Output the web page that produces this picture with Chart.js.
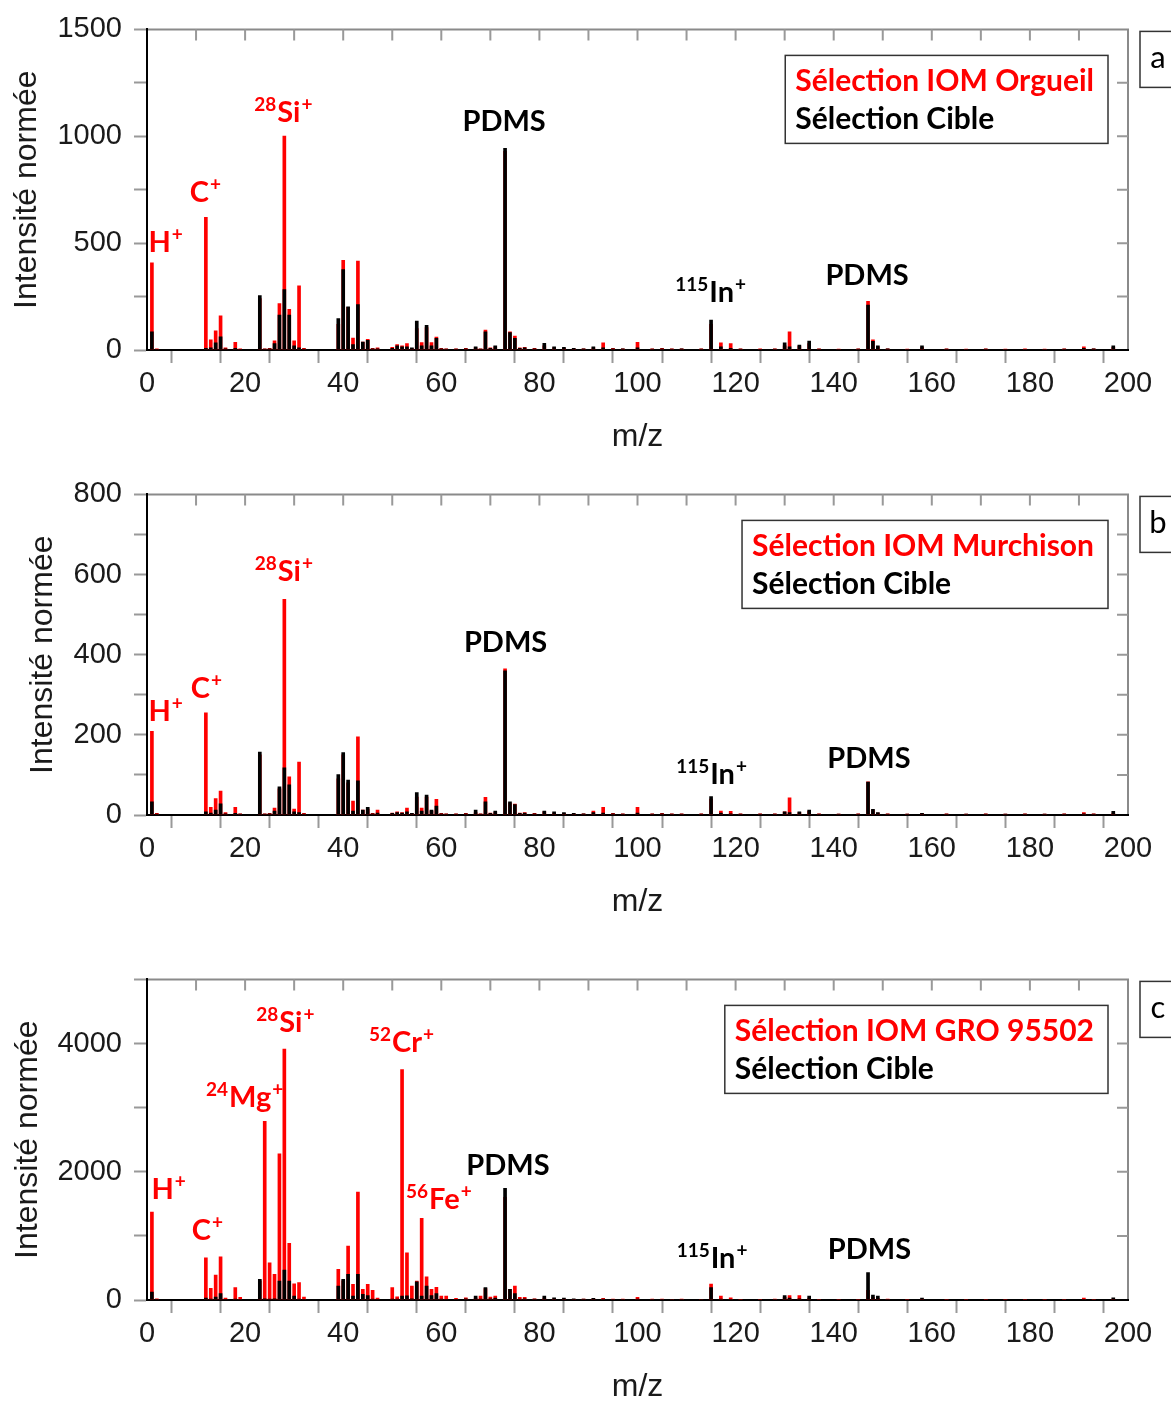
<!DOCTYPE html>
<html><head><meta charset="utf-8">
<script src="https://cdn.jsdelivr.net/npm/chart.js@4"></script>
<style>
html,body{margin:0;padding:0;background:#fff;overflow:hidden;width:1171px;height:1401px}
canvas{position:absolute;left:0}
</style></head>
<body>
<canvas id="ca" width="1171" height="460" style="top:0px"></canvas>
<canvas id="cb" width="1171" height="460" style="top:465px"></canvas>
<canvas id="cc" width="1171" height="460" style="top:950px"></canvas>
<script>
// m/z values (integer masses) where peaks are drawn
const masses = [1,2,12,13,14,15,16,18,19,23,24,25,26,27,28,29,30,31,32,39,40,41,42,43,44,45,46,47,50,51,52,53,54,55,56,57,58,59,60,61,63,65,67,68,69,70,71,73,74,75,76,77,79,81,83,85,87,89,91,93,95,97,100,103,105,107,109,113,115,117,119,121,125,128,130,131,133,135,137,141,145,147,148,149,151,155,158,163,167,171,175,179,183,187,191,193,197];

// Panel a
const orgueilIOM = [408,5,621,47,90,160,10,36,5,240,5,8,43,217,1001,190,43,300,8,120,419,200,56,416,37,50,8,10,12,25,20,30,8,100,35,105,35,60,8,5,5,8,10,5,93,10,15,930,85,65,10,12,8,20,10,8,6,5,10,33,8,6,36,5,8,5,6,5,120,33,30,5,5,6,20,85,18,30,5,4,5,228,47,15,6,4,12,5,4,5,4,5,4,5,15,6,12];
const orgueilCible = [85,3,8,10,34,62,5,8,3,255,4,5,30,163,283,163,20,10,4,147,376,202,25,213,37,45,5,6,8,20,15,15,10,135,20,116,20,55,6,4,4,6,15,4,85,8,20,944,82,55,8,10,6,31,15,12,8,6,15,10,6,5,10,4,6,4,5,4,140,15,8,4,3,4,33,15,23,42,4,3,4,210,40,20,5,3,20,4,3,4,3,3,3,4,8,5,20];

// Panel b
const murchisonIOM = [209,4,255,19,41,60,6,19,3,150,3,4,17,65,538,95,15,132,4,90,150,80,35,195,12,15,4,12,5,8,6,17,4,45,17,45,10,39,4,3,3,4,6,3,44,5,6,365,30,27,5,6,4,8,5,4,3,3,10,19,4,3,19,3,4,3,3,3,40,10,9,3,3,3,8,43,6,9,3,2,3,83,12,5,3,2,4,3,2,3,2,3,2,3,6,3,5];
const murchisonCible = [33,2,8,5,12,28,3,4,2,157,2,3,10,70,118,75,8,6,2,101,156,87,10,85,12,19,3,5,4,6,5,8,4,56,10,50,12,22,3,2,2,3,12,2,33,4,10,360,33,26,4,5,3,10,8,6,4,3,6,5,3,2,5,2,3,2,2,2,46,5,3,2,2,2,8,6,8,12,2,2,2,82,14,6,2,2,4,2,2,2,2,2,2,2,3,2,9];

// Panel c
const groIOM = [1371,20,659,182,389,675,30,192,40,300,2788,581,400,2279,3915,883,254,270,45,478,300,841,244,1682,166,244,151,30,192,50,3593,737,218,296,1272,363,166,197,60,60,25,35,30,60,180,45,60,1600,166,218,40,40,20,30,20,15,12,15,20,25,15,15,40,15,15,12,15,12,249,60,35,12,12,15,40,70,70,30,12,10,12,150,40,25,15,10,15,12,10,12,10,12,10,12,30,12,15];
const groCible = [125,10,30,15,47,99,10,15,10,322,20,15,20,296,467,296,62,15,10,218,322,400,62,400,88,70,15,10,15,15,62,65,20,285,62,218,70,99,15,10,10,20,60,15,192,20,30,1740,166,99,15,20,15,62,35,30,20,15,25,15,10,10,15,10,10,10,10,10,192,15,10,8,8,10,70,30,20,60,8,8,8,426,78,60,10,8,30,8,8,8,8,8,8,8,10,8,35];

// axis ticks
const xTickStep = 10, xLabelEvery = 20;
const panelYMax = [1500, 800, 5000];
const panelYStep = [250, 100, 1000];
const panelYLabelEvery = [500, 200, 2000];

const redLabels = ['Sélection IOM Orgueil', 'Sélection IOM Murchison', 'Sélection IOM GRO 95502'];
const blackLabel = 'Sélection Cible';
const panelLetters = ['a', 'b', 'c'];

// peak annotations: [pre-superscript, main text, superscript, m/z, intensity, colour]
const annotsA = [['', 'H', '+', 3.7, 508, 'red'], ['', 'C', '+', 11.8, 745, 'red'], ['28', 'Si', '+', 27.7, 1118, 'red'], ['', 'PDMS', '', 72.8, 1076, 'black'], ['115', 'In', '+', 114.8, 275, 'black'], ['', 'PDMS', '', 146.8, 354, 'black']];
const annotsB = [['', 'H', '+', 3.7, 263, 'red'], ['', 'C', '+', 12.0, 320, 'red'], ['28', 'Si', '+', 27.8, 611, 'red'], ['', 'PDMS', '', 73.1, 435, 'black'], ['115', 'In', '+', 115, 104, 'black'], ['', 'PDMS', '', 147.2, 144, 'black']];
const annotsC = [['', 'H', '+', 4.3, 1745, 'red'], ['', 'C', '+', 12.2, 1106, 'red'], ['24', 'Mg', '+', 19.8, 3178, 'red'], ['28', 'Si', '+', 28.1, 4346, 'red'], ['52', 'Cr', '+', 51.8, 4034, 'red'], ['56', 'Fe', '+', 59.4, 1589, 'red'], ['', 'PDMS', '', 73.6, 2118, 'black'], ['115', 'In', '+', 115.1, 670, 'black'], ['', 'PDMS', '', 147.3, 810, 'black']];

const RED = '#ff0000', BLACK = '#000000';
const TXT = "Lato, 'Open Sans', sans-serif";
const AX = "'Liberation Sans', Arial, sans-serif";

const decor = {
  id: 'decor',
  afterDraw(chart, args, opts) {
    const {ctx, chartArea: ca, scales: {x, y}} = chart;
    ctx.save();
    // top and right frame with inward ticks
    ctx.strokeStyle = '#8a8a8a';
    ctx.lineWidth = 2;
    ctx.beginPath();
    ctx.moveTo(ca.left + 1, ca.top); ctx.lineTo(ca.right, ca.top); ctx.lineTo(ca.right, ca.bottom - 1);
    ctx.stroke();
    ctx.strokeStyle = '#999';
    ctx.lineWidth = 2;
    ctx.beginPath();
    x.ticks.forEach(t => {
      if (t.value <= x.min || t.value >= x.max) return;
      const px = x.getPixelForValue(t.value); ctx.moveTo(px, ca.top); ctx.lineTo(px, ca.top + 11);
    });
    y.ticks.forEach(t => {
      if (t.value <= y.min || t.value >= y.max) return;
      const py = y.getPixelForValue(t.value); ctx.moveTo(ca.right, py); ctx.lineTo(ca.right - 11, py);
    });
    ctx.stroke();

    // annotations
    ctx.textBaseline = 'alphabetic';
    opts.annots.forEach(a => {
      const [pre, main, sup, mx, my, col] = a;
      const fMain = 'bold 29px ' + TXT, fSup = 'bold 19px ' + TXT;
      ctx.font = fSup; const wPre = pre ? ctx.measureText(pre).width + 1 : 0; const wSup = sup ? ctx.measureText(sup).width : 0;
      ctx.font = fMain; const wMain = ctx.measureText(main).width;
      const total = wPre + wMain + wSup;
      const cx = x.getPixelForValue(mx), cy = y.getPixelForValue(my);
      let sx = cx - total / 2; const base = cy + 11;
      ctx.fillStyle = col === 'red' ? RED : BLACK;
      if (pre) { ctx.font = fSup; ctx.fillText(pre, sx, base - 11); sx += wPre; }
      ctx.font = fMain; ctx.fillText(main, sx, base); sx += wMain;
      if (sup) { ctx.font = fSup; ctx.fillText(sup, sx + 1, base - 11); }
    });

    // legend box
    const ds = chart.data.datasets;
    const lines = [ds[1], ds[0]];
    ctx.font = 'bold 30px ' + TXT;
    const maxW = Math.max(...lines.map(d => ctx.measureText(d.label).width));
    const bw = maxW + 24, bh = 88;
    const bx = ca.right - 20 - bw, by = ca.top + 26;
    ctx.fillStyle = '#fff';
    ctx.fillRect(bx, by, bw, bh);
    ctx.strokeStyle = '#333'; ctx.lineWidth = 1.5;
    ctx.strokeRect(bx, by, bw, bh);
    ctx.textBaseline = 'middle';
    lines.forEach((d, i) => {
      ctx.fillStyle = d.backgroundColor;
      ctx.fillText(d.label, bx + 10, by + 26 + i * 38);
    });

    // panel letter box
    const lx = ca.right + 12, ly = ca.top + 2;
    ctx.strokeStyle = '#333'; ctx.lineWidth = 1.5;
    ctx.strokeRect(lx, ly, 60, 56);
    ctx.fillStyle = '#000';
    ctx.font = '31px ' + TXT;
    ctx.textAlign = 'center';
    ctx.fillText(opts.letter, lx + 18, ly + 27);
    ctx.restore();
  }
};

function makePanel(id, idx, redVals, blackVals, annots, titlePad) {
  const toPts = vals => masses.map((m, i) => ({x: m, y: vals[i]}));
  new Chart(document.getElementById(id), {
    type: 'bar',
    data: {
      datasets: [
        {label: blackLabel, data: toPts(blackVals), backgroundColor: BLACK, barThickness: 3, grouped: false},
        {label: redLabels[idx], data: toPts(redVals), backgroundColor: RED, barThickness: 3, grouped: false}
      ]
    },
    options: {
      responsive: false, animation: false,
      layout: {padding: {left: 0, right: 43, top: 28, bottom: 0}},
      plugins: {legend: {display: false}, tooltip: {enabled: false},
        decor: {annots: annots, letter: panelLetters[idx]}},
      scales: {
        x: {
          type: 'linear', min: 0, max: 200, offset: false,
          ticks: {stepSize: xTickStep, autoSkip: false, maxRotation: 0, padding: 4,
            color: '#1a1a1a', font: {family: AX, size: 29},
            callback: v => (v % xLabelEvery === 0 ? String(v) : '')},
          grid: {drawOnChartArea: false, drawTicks: true, tickLength: 13, tickColor: '#999', tickWidth: 2},
          border: {display: true, color: '#000', width: 2},
          title: {display: true, text: 'm/z', color: '#1a1a1a', font: {family: AX, size: 32}, padding: {top: 0, bottom: 4}},
          afterFit: s => { s.height = 110; }
        },
        y: {
          min: 0, max: panelYMax[idx],
          ticks: {stepSize: panelYStep[idx], autoSkip: false, padding: 12,
            color: '#1a1a1a', font: {family: AX, size: 29},
            callback: v => (v % panelYLabelEvery[idx] === 0 ? String(v) : '')},
          grid: {drawOnChartArea: false, drawTicks: true, tickLength: 13, tickColor: '#999', tickWidth: 2},
          border: {display: true, color: '#000', width: 2},
          title: {display: true, text: 'Intensité normée', color: '#1a1a1a', font: {family: AX, size: 32}, padding: {top: titlePad, bottom: 0}},
          afterFit: s => { s.width = 147; }
        }
      }
    },
    plugins: [decor]
  });
}

makePanel('ca', 0, orgueilIOM, orgueilCible, annotsA, 8);
makePanel('cb', 1, murchisonIOM, murchisonCible, annotsB, 24);
makePanel('cc', 2, groIOM, groCible, annotsC, 9);
</script>
</body></html>
